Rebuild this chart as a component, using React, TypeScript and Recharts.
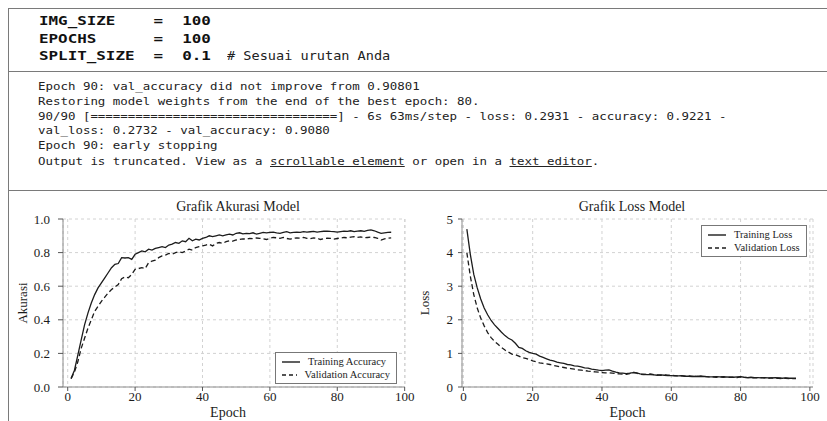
import React from "react";
import { LineChart, Line, XAxis, YAxis, CartesianGrid, Legend, Label } from "recharts";

// epochs shown on both charts
const epochs = [
  1, 2, 3, 4, 5, 6, 7, 8, 9, 10, 11, 12, 13, 14, 15, 16, 17, 18, 19, 20,
  21, 22, 23, 24, 25, 26, 27, 28, 29, 30, 31, 32, 33, 34, 35, 36, 37, 38, 39, 40,
  41, 42, 43, 44, 45, 46, 47, 48, 49, 50, 51, 52, 53, 54, 55, 56, 57, 58, 59, 60,
  61, 62, 63, 64, 65, 66, 67, 68, 69, 70, 71, 72, 73, 74, 75, 76, 77, 78, 79, 80,
  81, 82, 83, 84, 85, 86, 87, 88, 89, 90, 91, 92, 93, 94, 95, 96,
];

const trainAcc = [
  0.05, 0.1, 0.19, 0.28, 0.37, 0.44, 0.5, 0.55, 0.59, 0.62, 0.65, 0.68, 0.71, 0.73, 0.735, 0.77, 0.768, 0.77, 0.76, 0.79,
  0.8, 0.81, 0.805, 0.82, 0.815, 0.825, 0.83, 0.835, 0.83, 0.845, 0.85, 0.86, 0.855, 0.87, 0.865, 0.885, 0.87, 0.88, 0.875, 0.885,
  0.89, 0.9, 0.895, 0.9, 0.905, 0.9, 0.905, 0.91, 0.905, 0.915, 0.918, 0.912, 0.915, 0.913, 0.918, 0.91, 0.915, 0.92, 0.918, 0.92,
  0.922, 0.918, 0.915, 0.92, 0.925, 0.918, 0.92, 0.922, 0.92, 0.925, 0.922, 0.924, 0.926, 0.922, 0.925, 0.927, 0.928, 0.926, 0.925, 0.922,
  0.925, 0.928, 0.926, 0.93, 0.925, 0.928, 0.93, 0.926, 0.932, 0.935, 0.93, 0.922, 0.915, 0.918, 0.92, 0.921,
];

const valAcc = [
  0.05, 0.09, 0.15, 0.23, 0.29, 0.35, 0.4, 0.45, 0.48, 0.51, 0.535, 0.56, 0.58, 0.595, 0.61, 0.645, 0.655, 0.65, 0.67, 0.7,
  0.705, 0.71, 0.705, 0.74, 0.75, 0.755, 0.77, 0.78, 0.785, 0.795, 0.79, 0.8, 0.805, 0.8, 0.81, 0.82, 0.815, 0.83, 0.835, 0.84,
  0.845, 0.85, 0.84, 0.855, 0.86, 0.855, 0.865, 0.87, 0.868, 0.875, 0.878, 0.882, 0.88, 0.885, 0.883, 0.887, 0.885, 0.882, 0.878, 0.885,
  0.89, 0.888, 0.885, 0.89, 0.884, 0.88, 0.885, 0.888, 0.886, 0.89, 0.885, 0.883, 0.888, 0.885, 0.878, 0.883, 0.886, 0.885, 0.88, 0.884,
  0.887, 0.89, 0.888, 0.892, 0.895, 0.89, 0.893, 0.888, 0.89, 0.892, 0.89, 0.885, 0.875, 0.882, 0.886, 0.888,
];

const trainLoss = [
  4.7, 3.95, 3.35, 2.95, 2.62, 2.35, 2.15, 1.98, 1.85, 1.74, 1.63, 1.53, 1.45, 1.4, 1.3, 1.18, 1.15, 1.08, 1.03, 1.0,
  0.98, 0.92, 0.88, 0.84, 0.8, 0.78, 0.74, 0.72, 0.7, 0.67, 0.66, 0.63, 0.62, 0.6, 0.57, 0.56, 0.53, 0.52, 0.5, 0.49,
  0.5, 0.51, 0.47, 0.44, 0.42, 0.41, 0.4, 0.41, 0.43, 0.42, 0.39, 0.38, 0.37, 0.37, 0.36, 0.35, 0.36, 0.35, 0.34, 0.34,
  0.33, 0.33, 0.34, 0.32, 0.32, 0.31, 0.32, 0.31, 0.32, 0.31, 0.3, 0.3, 0.31, 0.3, 0.29, 0.3, 0.29, 0.29, 0.3, 0.31,
  0.29, 0.28, 0.29, 0.28, 0.28, 0.27, 0.28, 0.27, 0.27, 0.28, 0.27, 0.26, 0.27, 0.26, 0.26, 0.26,
];

const valLoss = [
  4.0, 3.3, 2.75, 2.35, 2.05, 1.82, 1.62, 1.47, 1.36, 1.27, 1.18, 1.1, 1.04, 0.98, 0.96, 0.92, 0.87, 0.85, 0.82, 0.78,
  0.75, 0.72, 0.7, 0.69, 0.67, 0.64, 0.62, 0.6, 0.58, 0.56, 0.55, 0.53, 0.51, 0.5, 0.49, 0.47, 0.46, 0.45, 0.44, 0.43,
  0.42, 0.42, 0.41, 0.4, 0.39, 0.38, 0.38, 0.4, 0.44, 0.41, 0.38, 0.37, 0.38, 0.39, 0.37, 0.36, 0.35, 0.36, 0.35, 0.35,
  0.34, 0.33, 0.33, 0.32, 0.33, 0.32, 0.31, 0.32, 0.33, 0.31, 0.3, 0.3, 0.29, 0.3, 0.31, 0.3, 0.29, 0.29, 0.28, 0.3,
  0.29, 0.28, 0.28, 0.27, 0.27, 0.28, 0.27, 0.26, 0.27, 0.26, 0.26, 0.25, 0.26, 0.25, 0.25, 0.25,
];

const epochTicks = [0, 20, 40, 60, 80, 100];
const accTicks = [0, 0.2, 0.4, 0.6, 0.8, 1.0];
const lossTicks = [0, 1, 2, 3, 4, 5];

const codeLines = ["IMG_SIZE    =  100", "EPOCHS      =  100", "SPLIT_SIZE  =  0.1"];
const codeComment = "# Sesuai urutan Anda";
const outputLines = [
  "Epoch 90: val_accuracy did not improve from 0.90801",
  "Restoring model weights from the end of the best epoch: 80.",
  "90/90 [=================================] - 6s 63ms/step - loss: 0.2931 - accuracy: 0.9221 -",
  "val_loss: 0.2732 - val_accuracy: 0.9080",
  "Epoch 90: early stopping",
];

const accData = epochs.map((e, i) => ({ epoch: e, train: trainAcc[i], val: valAcc[i] }));
const lossData = epochs.map((e, i) => ({ epoch: e, train: trainLoss[i], val: valLoss[i] }));

const SERIF = '"Liberation Serif", "DejaVu Serif", serif';
const MONO = '"DejaVu Sans Mono", "Liberation Mono", monospace';
const FRAME = "#8c8c8c";
const INK = "#1c1c1c";
const tickStyle = { fontSize: 13, fill: INK, fontFamily: SERIF };

const LegendBox = ({ items, width }: { items: { label: string; dash?: string }[]; width: number }) => (
  <div
    style={{
      width,
      boxSizing: "border-box",
      border: "1px solid #777",
      background: "#fff",
      padding: "2px 6px",
      fontFamily: SERIF,
      fontSize: 10.5,
      color: INK,
    }}
  >
    {items.map((it) => (
      <div key={it.label} style={{ display: "flex", alignItems: "center", height: 13 }}>
        <svg width={18} height={6}>
          <line x1={0} y1={3} x2={18} y2={3} stroke={INK} strokeWidth={1.4} strokeDasharray={it.dash} />
        </svg>
        <span style={{ marginLeft: 8, whiteSpace: "nowrap" }}>{it.label}</span>
      </div>
    ))}
  </div>
);

const hLine = (top: number) => (
  <div style={{ position: "absolute", left: 8, top, width: 819, height: 1, background: "#7a7a7a" }} />
);

export default function App() {
  return (
    <div style={{ position: "absolute", left: 0, top: 0, width: 827, height: 421, background: "#fff", overflow: "hidden" }}>
      {hLine(8)}
      {hLine(71)}
      {hLine(190)}
      <div style={{ position: "absolute", left: 8, top: 8, width: 1, height: 413, background: "#7a7a7a" }} />

      {codeLines.map((t, i) => (
        <div
          key={t}
          style={{
            position: "absolute",
            left: 39,
            top: 13 + i * 17.5,
            fontFamily: MONO,
            fontWeight: "bold",
            fontSize: 13,
            lineHeight: "16px",
            whiteSpace: "pre",
            color: "#111",
            transform: "scaleX(1.22)",
            transformOrigin: "left center",
          }}
        >
          {t}
        </div>
      ))}
      <div
        style={{
          position: "absolute",
          left: 227,
          top: 48,
          fontFamily: MONO,
          fontSize: 12,
          lineHeight: "16px",
          whiteSpace: "pre",
          color: "#222",
          transform: "scaleX(1.13)",
          transformOrigin: "left center",
        }}
      >
        {codeComment}
      </div>

      {outputLines.map((t, i) => (
        <div
          key={t}
          style={{
            position: "absolute",
            left: 38,
            top: 80 + i * 14.8,
            fontFamily: MONO,
            fontSize: 11,
            lineHeight: "14px",
            whiteSpace: "pre",
            color: "#222",
            transform: "scaleX(1.13)",
            transformOrigin: "left center",
          }}
        >
          {t}
        </div>
      ))}
      <div
        style={{
          position: "absolute",
          left: 38,
          top: 155,
          fontFamily: MONO,
          fontSize: 11,
          lineHeight: "14px",
          whiteSpace: "pre",
          color: "#222",
          transform: "scaleX(1.13)",
          transformOrigin: "left center",
        }}
      >
        {"Output is truncated. View as a "}
        <span style={{ textDecoration: "underline" }}>scrollable element</span>
        {" or open in a "}
        <span style={{ textDecoration: "underline" }}>text editor</span>
        {"."}
      </div>

      <div style={{ position: "absolute", left: 0, top: 199, width: 476, textAlign: "center", fontFamily: SERIF, fontSize: 14, lineHeight: "16px", color: INK }}>
        Grafik Akurasi Model
      </div>
      <div style={{ position: "absolute", left: 410, top: 199, width: 444, textAlign: "center", fontFamily: SERIF, fontSize: 14, lineHeight: "16px", color: INK }}>
        Grafik Loss Model
      </div>

      <div style={{ position: "absolute", left: 0, top: 195 }}>
        <LineChart width={415} height={226} data={accData} margin={{ top: 24, right: 10, bottom: 4, left: 0 }}>
          <CartesianGrid stroke="#d2d2d2" strokeDasharray="3 3" />
          <XAxis xAxisId="top" orientation="top" type="number" dataKey="epoch" domain={[-1.4, 100.1]} tick={false} tickLine={false} height={0} axisLine={{ stroke: FRAME }} />
          <YAxis yAxisId="right" orientation="right" type="number" domain={[0, 1]} tick={false} tickLine={false} width={0} axisLine={{ stroke: FRAME }} />
          <XAxis
            type="number"
            dataKey="epoch"
            domain={[-1.4, 100.1]}
            ticks={epochTicks}
            height={30}
            tickSize={4}
            tickMargin={1}
            tick={tickStyle}
            tickLine={{ stroke: "#555" }}
            axisLine={{ stroke: FRAME }}
          >
            <Label value="Epoch" position="insideBottom" offset={0} dx={-6} style={{ fontSize: 14, fontFamily: SERIF, fill: INK }} />
          </XAxis>
          <YAxis
            type="number"
            domain={[0, 1]}
            ticks={accTicks}
            width={63}
            tickSize={5}
            tickMargin={8}
            tick={tickStyle}
            tickLine={{ stroke: "#555" }}
            axisLine={{ stroke: FRAME }}
            tickFormatter={(v: number) => v.toFixed(1)}
          >
            <Label value="Akurasi" angle={-90} position="insideLeft" offset={22} style={{ fontSize: 13, fontFamily: SERIF, fill: INK, textAnchor: "middle" }} />
          </YAxis>
          <Line type="linear" dataKey="train" name="Training Accuracy" stroke={INK} strokeWidth={1.3} dot={false} isAnimationActive={false} />
          <Line type="linear" dataKey="val" name="Validation Accuracy" stroke={INK} strokeWidth={1.3} strokeDasharray="5 3" dot={false} isAnimationActive={false} />
          <Legend
            layout="vertical"
            align="center"
            verticalAlign="middle"
            wrapperStyle={{ left: 275, top: 157, width: 122 }}
            content={() => (
              <LegendBox width={122} items={[{ label: "Training Accuracy" }, { label: "Validation Accuracy", dash: "4 3" }]} />
            )}
          />
        </LineChart>
      </div>

      <div style={{ position: "absolute", left: 410, top: 195 }}>
        <LineChart width={417} height={226} data={lossData} margin={{ top: 24, right: 14, bottom: 4, left: 0 }}>
          <CartesianGrid stroke="#d2d2d2" strokeDasharray="3 3" />
          <XAxis xAxisId="top" orientation="top" type="number" dataKey="epoch" domain={[-0.4, 100.9]} tick={false} tickLine={false} height={0} axisLine={{ stroke: FRAME }} />
          <YAxis yAxisId="right" orientation="right" type="number" domain={[0, 5]} tick={false} tickLine={false} width={0} axisLine={{ stroke: FRAME }} />
          <XAxis
            type="number"
            dataKey="epoch"
            domain={[-0.4, 100.9]}
            ticks={epochTicks}
            height={30}
            tickSize={4}
            tickMargin={1}
            tick={tickStyle}
            tickLine={{ stroke: "#555" }}
            axisLine={{ stroke: FRAME }}
          >
            <Label value="Epoch" position="insideBottom" offset={0} dx={-10} style={{ fontSize: 14, fontFamily: SERIF, fill: INK }} />
          </XAxis>
          <YAxis
            type="number"
            domain={[0, 5]}
            ticks={lossTicks}
            width={52}
            tickSize={4}
            tickMargin={5}
            tick={tickStyle}
            tickLine={{ stroke: "#555" }}
            axisLine={{ stroke: FRAME }}
          >
            <Label value="Loss" angle={-90} position="insideLeft" offset={14} style={{ fontSize: 13, fontFamily: SERIF, fill: INK, textAnchor: "middle" }} />
          </YAxis>
          <Line type="linear" dataKey="train" name="Training Loss" stroke={INK} strokeWidth={1.3} dot={false} isAnimationActive={false} />
          <Line type="linear" dataKey="val" name="Validation Loss" stroke={INK} strokeWidth={1.3} strokeDasharray="5 3" dot={false} isAnimationActive={false} />
          <Legend
            layout="vertical"
            align="center"
            verticalAlign="middle"
            wrapperStyle={{ left: 291, top: 30, width: 106 }}
            content={() => (
              <LegendBox width={106} items={[{ label: "Training Loss" }, { label: "Validation Loss", dash: "4 3" }]} />
            )}
          />
        </LineChart>
      </div>
    </div>
  );
}
